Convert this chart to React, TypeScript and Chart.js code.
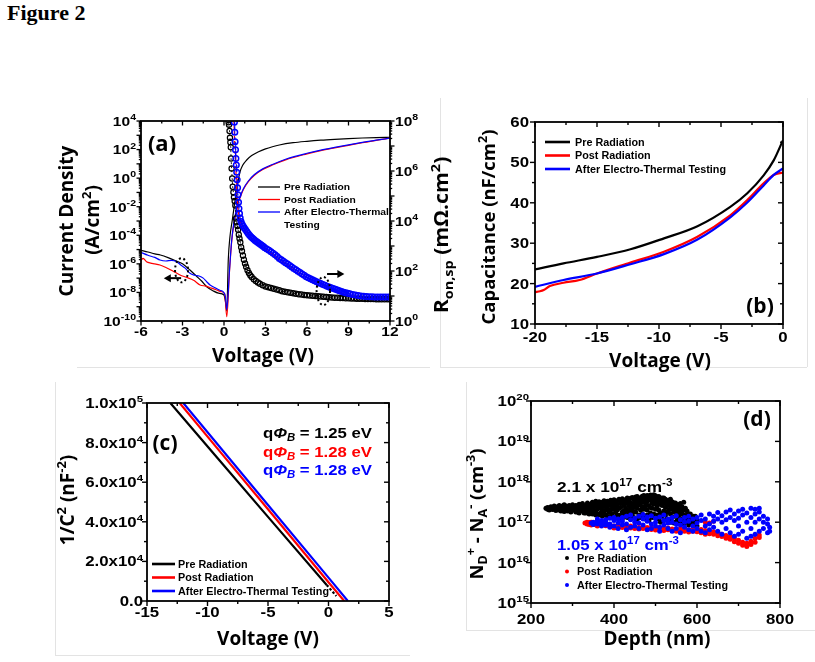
import { useEffect, useRef } from 'react';
import { Chart, registerables } from 'chart.js';

Chart.register(...registerables);

const W = 815;
const H = 662;
const SANS = '"Liberation Sans", Arial, sans-serif';
const HEAD = '"Open Sans", "Liberation Sans", sans-serif';
const BLACK = '#000000';
const RED = '#ff0000';
const BLUE = '#0000ff';

// ---------- (a) forward / reverse I-V and specific on-resistance ----------
// log10 of current density (A/cm^2) against bias (V)
const jPreLog: [number, number][] = [
  [-6, -5.05], [-5.5, -5.17], [-5, -5.3], [-4.6, -5.38], [-4, -5.58], [-3.5, -5.78], [-3, -6.0],
  [-2.46, -6.43], [-2, -6.85], [-1.6, -7.22], [-1.25, -7.6], [-0.8, -7.88], [-0.4, -8.05], [0, -8.18],
  [0.1, -8.6], [0.2, -9.3], [0.31, -5.7], [0.43, -4.1], [0.6, -2.93], [0.75, -1.9], [0.92, -0.83],
  [1.05, -0.05], [1.16, 0.45], [1.35, 0.9], [1.64, 1.27], [2, 1.58], [2.5, 1.85], [3, 2.05], [3.5, 2.2],
  [4, 2.32], [5, 2.48], [6, 2.58], [7, 2.66], [8, 2.72], [9, 2.77], [10, 2.81], [11, 2.84], [12, 2.86],
];
const jPostLog: [number, number][] = [
  [-6, -5.75], [-5.85, -5.62], [-5.6, -5.85], [-5.3, -5.95], [-5, -6.0], [-4.63, -6.08], [-4.2, -6.25],
  [-3.7, -6.5], [-3.18, -6.78], [-2.7, -6.95], [-2.2, -7.15], [-1.73, -7.48], [-1.3, -7.56], [-0.9, -7.7],
  [-0.53, -7.83], [-0.2, -7.95], [0.05, -8.1], [0.2, -9.7], [0.4, -6.5], [0.55, -4.5], [0.7, -3.3],
  [0.85, -2.5], [1.0, -1.8], [1.16, -1.38], [1.4, -0.8], [1.76, -0.25], [2.2, 0.2], [2.8, 0.6], [3.5, 0.92],
  [4.5, 1.3], [6, 1.7], [7, 1.93], [8, 2.12], [9, 2.3], [10, 2.48], [11, 2.65], [12, 2.8],
];
const jAfterLog: [number, number][] = [
  [-6, -5.2], [-5.5, -5.4], [-5, -5.55], [-4.63, -5.73], [-4.2, -5.8], [-3.8, -5.75], [-3.42, -5.85],
  [-3.1, -6.1], [-2.8, -6.3], [-2.46, -6.66], [-2.1, -6.8], [-1.8, -6.85], [-1.5, -7.0], [-1.25, -7.25],
  [-1.01, -7.48], [-0.6, -7.7], [-0.3, -7.85], [-0.07, -7.95], [0.1, -8.3], [0.2, -9.2], [0.4, -6.4],
  [0.55, -4.4], [0.7, -3.2], [0.85, -2.4], [1.0, -1.72], [1.16, -1.3], [1.4, -0.74], [1.76, -0.2],
  [2.2, 0.25], [2.8, 0.65], [3.5, 0.96], [4.5, 1.34], [6, 1.74], [7, 1.96], [8, 2.15], [9, 2.33],
  [10, 2.5], [11, 2.66], [12, 2.8],
];
// log10 of R_on,sp (mOhm.cm^2) against bias (V)
const ronPreLog: [number, number][] = [
  [0.33, 7.95], [0.36, 7.85], [0.4, 7.6], [0.43, 7.33], [0.46, 7.15], [0.49, 6.95], [0.51, 6.5],
  [0.55, 6.1], [0.59, 5.7], [0.63, 5.37], [0.68, 5.15], [0.72, 4.95], [0.77, 4.8], [0.82, 4.62],
  [0.87, 4.1], [0.92, 3.95], [0.97, 3.8], [1.02, 3.65], [1.07, 3.45], [1.12, 3.3], [1.18, 3.15],
  [1.24, 2.95], [1.3, 2.8], [1.37, 2.62], [1.44, 2.45], [1.52, 2.3], [1.6, 2.17], [1.7, 2.03],
  [1.8, 1.92], [1.9, 1.83], [2.0, 1.76], [2.15, 1.67], [2.3, 1.6], [2.45, 1.54], [2.6, 1.49],
  [2.8, 1.43], [3.0, 1.38], [3.2, 1.35], [3.4, 1.32], [3.6, 1.29], [3.8, 1.26], [4.0, 1.23],
  [4.2, 1.19], [4.4, 1.17], [4.6, 1.15], [4.8, 1.13], [5.0, 1.11], [5.2, 1.09], [5.4, 1.07],
  [5.6, 1.06], [5.8, 1.04], [6.0, 1.03], [6.2, 1.02], [6.4, 1.01], [6.6, 1.0], [6.8, 0.99],
  [7.0, 0.98], [7.2, 0.97], [7.4, 0.96], [7.6, 0.95], [7.8, 0.94], [8.0, 0.93], [8.2, 0.93],
  [8.4, 0.92], [8.6, 0.92], [8.8, 0.91], [9.0, 0.91], [9.2, 0.9], [9.4, 0.9], [9.6, 0.89],
  [9.8, 0.89], [10.0, 0.89], [10.2, 0.88], [10.4, 0.88], [10.6, 0.88], [10.8, 0.88], [11.0, 0.87],
  [11.2, 0.87], [11.4, 0.87], [11.6, 0.87], [11.8, 0.87], [12.0, 0.87],
];
const ronAfterLog: [number, number][] = [
  [0.75, 7.95], [0.78, 7.55], [0.8, 7.17], [0.83, 6.85], [0.86, 6.5], [0.89, 6.24], [0.92, 5.95],
  [0.95, 5.65], [0.98, 5.33], [1.01, 5.05], [1.05, 4.75], [1.08, 4.5], [1.12, 4.3], [1.17, 4.12],
  [1.23, 3.98], [1.3, 3.88], [1.38, 3.8], [1.46, 3.73], [1.55, 3.66], [1.65, 3.58], [1.75, 3.5],
  [1.85, 3.43], [1.95, 3.37], [2.05, 3.32], [2.15, 3.27], [2.25, 3.22], [2.35, 3.18], [2.45, 3.14],
  [2.55, 3.1], [2.65, 3.06], [2.75, 3.02], [2.85, 2.98], [2.95, 2.93], [3.1, 2.88], [3.25, 2.83],
  [3.4, 2.77], [3.55, 2.71], [3.7, 2.65], [3.85, 2.58], [4.0, 2.5], [4.15, 2.45], [4.3, 2.39],
  [4.45, 2.33], [4.6, 2.28], [4.75, 2.22], [4.9, 2.16], [5.05, 2.1], [5.2, 2.05], [5.35, 1.99],
  [5.5, 1.94], [5.65, 1.88], [5.8, 1.83], [5.95, 1.77], [6.1, 1.73], [6.25, 1.69], [6.4, 1.65],
  [6.55, 1.61], [6.7, 1.57], [6.85, 1.53], [7.0, 1.5], [7.15, 1.46], [7.3, 1.43], [7.45, 1.39],
  [7.6, 1.36], [7.75, 1.33], [7.9, 1.3], [8.05, 1.27], [8.2, 1.24], [8.35, 1.21], [8.5, 1.18],
  [8.65, 1.15], [8.8, 1.13], [8.95, 1.11], [9.1, 1.09], [9.3, 1.06], [9.5, 1.04], [9.7, 1.02],
  [9.9, 1.0], [10.1, 0.99], [10.3, 0.98], [10.5, 0.97], [10.7, 0.97], [10.9, 0.96], [11.1, 0.96],
  [11.3, 0.96], [11.5, 0.96], [11.7, 0.96], [11.9, 0.96],
];
const ronPostLog: [number, number][] = [
  [0.72, 8.0], [0.76, 7.3], [0.8, 6.8], [0.84, 6.3], [0.88, 5.8], [0.93, 5.2], [0.98, 4.7], [1.05, 4.3],
  [1.15, 4.0], [1.3, 3.8], [1.5, 3.62], [1.75, 3.45], [2.0, 3.3], [2.5, 3.08], [3.0, 2.86], [3.5, 2.68],
  [4.0, 2.47], [4.5, 2.28], [5.0, 2.1], [5.5, 1.92], [6.0, 1.74], [6.5, 1.6], [7.0, 1.47], [7.5, 1.34],
  [8.0, 1.22], [8.5, 1.12], [9.0, 1.03], [9.5, 0.96], [10.0, 0.91], [10.5, 0.88], [11.0, 0.86], [12.0, 0.86],
];
const aXTicks = [-6, -3, 0, 3, 6, 9, 12];
const aXMinor = [-4.5, -1.5, 1.5, 4.5, 7.5, 10.5];
const aLeftExps = [4, 2, 0, -2, -4, -6, -8, -10];
const aRightExps = [8, 6, 4, 2, 0];

// ---------- (b) capacitance (nF/cm^2) against bias (V) ----------
const cvPre: [number, number][] = [
  [-20, 23.5], [-17.7, 25.0], [-15, 26.6], [-12.3, 28.5], [-9.6, 31.2], [-6.9, 34.2], [-4.25, 39.0],
  [-2.9, 42.3], [-1.56, 46.8], [-0.75, 50.5], [0, 55.5],
];
const cvPost: [number, number][] = [
  [-20, 17.9], [-19.6, 18.1], [-19.3, 18.4], [-18.8, 19.4], [-17.7, 20.2], [-16.4, 20.9], [-15, 22.5],
  [-12.3, 25.2], [-9.6, 27.9], [-6.9, 31.6], [-4.25, 36.9], [-2.9, 40.6], [-1.56, 44.8], [-0.75, 46.9],
  [0, 47.5],
];
const cvAfter: [number, number][] = [
  [-20, 19.2], [-17.7, 20.9], [-15, 22.5], [-12.3, 24.8], [-9.6, 27.3], [-6.9, 30.9], [-4.25, 36.4],
  [-2.9, 40.0], [-1.56, 44.3], [-0.75, 46.9], [0, 48.5],
];
const bXTicks = [-20, -15, -10, -5, 0];
const bXMinor = [-17.5, -12.5, -7.5, -2.5];
const bYTicks = [10, 20, 30, 40, 50, 60];
const bYMinor = [15, 25, 35, 45, 55];

// ---------- (c) 1/C^2 (nF^-2) against bias (V) ----------
const invPre: [number, number][] = [[-13.07, 1.0e5], [-9, 7.1e4], [-5, 4.25e4], [-0.15, 8.1e3]];
const invPreExt: [number, number][] = [[-0.15, 8.1e3], [0.65, 2.5e3]];
const invPost: [number, number][] = [[-12.3, 1.0e5], [-9, 7.57e4], [-5, 4.63e4], [0, 9.5e3], [1.3, 0]];
const invAfter: [number, number][] = [[-12.0, 1.0e5], [-9, 7.79e4], [-5, 4.85e4], [0, 1.18e4], [1.6, 0]];
const cXTicks = [-15, -10, -5, 0, 5];
const cXMinor = [-12.5, -7.5, -2.5, 2.5];
const cYTicks = [0, 2e4, 4e4, 6e4, 8e4, 1e5];
const cYMant = ['0.0', '2.0x10', '4.0x10', '6.0x10', '8.0x10', '1.0x10'];
const cYExp = ['', '4', '4', '4', '4', '5'];
const cYMinor = [1e4, 3e4, 5e4, 7e4, 9e4];
const barrierEv = ['1.25', '1.28', '1.28'];

// ---------- (d) net doping (x 10^17 cm^-3) against depth (nm) ----------
// each row: depth, then the samples taken at that depth
const dopPre: number[][] = [
  [236, 2.2], [240, 2.1, 2.3], [244, 2.25, 2.0], [248, 2.15, 2.4], [252, 2.3, 2.05], [256, 2.1, 2.5],
  [260, 2.2, 1.95], [264, 2.4, 2.1], [268, 2.0, 2.6], [272, 2.3, 1.9], [276, 2.5, 2.1],
  [280, 2.1, 2.7, 1.85], [284, 2.2, 2.5], [288, 1.9, 2.4], [292, 2.3, 2.0, 2.6], [296, 2.1, 1.8],
  [300, 2.4, 2.0, 2.7], [304, 2.0, 2.3], [308, 2.6, 1.8, 2.2], [312, 1.8, 2.5], [316, 2.2, 2.8, 1.7],
  [320, 2.7, 2.0], [324, 1.9, 2.4, 2.9], [328, 2.3, 1.7], [332, 1.7, 2.6, 2.1], [336, 2.5, 1.9, 3.0],
  [340, 2.0, 2.7, 1.6], [344, 2.8, 2.2, 1.8], [348, 1.6, 2.4, 3.1], [352, 2.4, 1.9, 2.9],
  [356, 1.8, 2.6, 3.3, 1.5], [360, 2.9, 2.1, 1.6], [364, 1.5, 2.5, 3.2], [368, 2.2, 1.7, 2.8],
  [372, 3.1, 2.0, 1.4, 2.5], [376, 1.7, 2.7, 3.4], [380, 2.5, 1.5, 3.0, 2.0], [384, 1.4, 2.2, 3.3],
  [388, 3.2, 1.8, 2.6], [392, 2.0, 2.9, 1.4, 3.5], [396, 1.6, 2.4, 3.1], [400, 2.8, 1.3, 2.1, 3.6],
  [404, 1.3, 2.5, 3.0, 1.8], [408, 3.4, 2.0, 1.5, 2.7], [412, 2.2, 3.7, 1.3], [416, 1.5, 2.9, 2.3, 3.3],
  [420, 3.0, 1.8, 3.8, 1.2], [424, 1.9, 2.6, 3.4, 1.4], [428, 3.6, 2.2, 1.6, 2.9], [432, 1.3, 3.0, 2.0, 4.0],
  [436, 2.6, 1.5, 3.5, 1.9], [440, 3.9, 2.3, 1.2, 3.0], [444, 1.6, 2.8, 4.1, 2.0], [448, 2.3, 3.6, 1.3, 2.9],
  [452, 4.2, 1.8, 2.6, 3.4], [456, 1.2, 3.1, 2.2, 4.3], [460, 3.3, 1.5, 2.7, 4.0], [464, 2.0, 3.8, 1.3, 2.9],
  [468, 4.4, 2.4, 1.6, 3.5], [472, 1.4, 3.2, 4.6, 2.1], [476, 2.9, 1.2, 3.9, 2.5], [480, 4.6, 2.0, 3.3, 1.5],
  [484, 1.1, 3.6, 2.6, 4.4], [488, 3.5, 1.7, 4.7, 2.3], [492, 2.2, 4.1, 1.3, 3.0], [496, 4.8, 2.8, 1.6, 3.7],
  [500, 1.3, 3.4, 4.5, 2.1], [504, 3.1, 1.5, 4.2, 2.5], [508, 4.3, 2.0, 3.5, 1.2], [512, 1.0, 2.8, 3.9, 1.7],
  [516, 2.6, 4.0, 1.4, 3.2], [520, 4.0, 1.9, 2.9, 1.1], [524, 1.5, 3.3, 2.3, 3.7], [528, 3.3, 1.2, 2.6, 1.8],
  [532, 1.1, 2.9, 3.5, 2.0], [536, 3.7, 1.6, 2.4, 1.0], [540, 2.1, 3.2, 1.3, 2.8], [544, 0.95, 2.5, 1.8, 3.0],
  [548, 3.0, 1.4, 2.2, 1.0], [552, 1.6, 2.7, 1.1, 2.0], [556, 2.7, 1.3, 1.9, 2.4], [560, 1.0, 2.2, 1.6, 2.9],
  [564, 2.4, 1.2, 1.8], [568, 3.1, 1.5, 0.9, 2.0], [572, 1.3, 2.2, 1.0], [576, 1.9, 1.1, 1.5],
  [580, 0.85, 1.6, 1.2], [584, 1.6, 1.0, 1.3], [588, 1.2, 0.9], [592, 1.0, 1.4, 0.8], [596, 1.4, 0.9],
  [600, 0.8, 1.1],
];
const dopPost: number[][] = [
  [330, 0.95], [335, 0.9, 1.0], [340, 0.88, 0.98], [345, 1.0, 0.85], [350, 0.92], [355, 0.86, 0.97],
  [360, 0.9, 0.8], [370, 0.85, 0.95], [380, 0.82, 0.9], [390, 0.78, 0.88], [400, 0.8, 0.72],
  [410, 0.76, 0.86], [420, 0.74, 0.82], [430, 0.78, 0.7], [440, 0.72, 0.8], [450, 0.7, 0.77],
  [460, 0.74, 0.68], [470, 0.7, 0.78], [480, 0.68, 0.74], [490, 0.72, 0.66], [500, 0.7, 0.64],
  [510, 0.66, 0.73], [520, 0.7, 0.62], [530, 0.65, 0.72], [540, 0.62, 0.68], [550, 0.66, 0.6],
  [560, 0.63, 0.7], [570, 0.6, 0.66], [580, 0.64, 0.57], [590, 0.6, 0.68], [600, 0.58, 0.62],
  [610, 0.55, 0.66], [620, 0.62, 0.5, 1.0], [630, 0.52, 0.6, 0.95], [640, 0.5, 0.58, 1.05],
  [650, 0.46, 0.55], [660, 0.44, 0.5], [670, 0.4, 0.47], [680, 0.38, 0.44], [690, 0.33, 0.4],
  [700, 0.3, 0.36], [710, 0.27, 0.32], [720, 0.25, 0.3], [730, 0.28, 0.34], [740, 0.32, 0.4],
  [750, 0.42, 0.48],
];
const dopAfter: number[][] = [
  [345, 0.95], [350, 1.0, 0.88], [360, 1.05, 0.9, 1.2], [370, 0.95, 1.1, 0.8], [380, 1.15, 0.85, 1.0],
  [390, 0.9, 1.25, 0.75], [400, 1.1, 0.8, 1.3], [410, 0.95, 1.2, 0.7], [420, 1.3, 0.85, 1.05],
  [430, 0.9, 1.4, 0.65], [440, 1.15, 0.75, 1.5], [450, 0.8, 1.25, 1.0], [460, 1.4, 0.7, 0.95],
  [470, 0.85, 1.2, 1.55], [480, 1.05, 0.65, 1.35], [490, 0.9, 1.45, 0.7], [500, 1.25, 0.8, 1.0],
  [510, 0.75, 1.35, 0.6], [520, 1.1, 0.85, 1.5], [530, 0.7, 1.2, 0.95], [540, 1.3, 0.6, 1.0],
  [550, 0.9, 1.45, 0.7], [560, 1.15, 0.55, 0.85], [570, 0.75, 1.3, 1.0], [580, 1.05, 0.65, 1.4],
  [590, 0.8, 1.2, 0.6], [600, 1.3, 0.7, 0.95], [610, 0.6, 1.1, 1.5], [620, 1.2, 0.8, 0.55],
  [630, 0.9, 1.6, 0.65], [640, 1.4, 0.75, 1.05], [650, 0.6, 1.2, 1.75], [660, 1.0, 0.5, 1.45],
  [670, 1.8, 0.7, 1.15], [680, 0.55, 1.3, 2.0], [690, 1.1, 0.45, 1.6], [700, 1.9, 0.8, 1.25, 0.5],
  [710, 0.6, 1.5, 2.1], [720, 1.0, 0.4, 1.7], [730, 2.2, 0.7, 1.3, 0.45], [740, 0.5, 1.6, 1.0, 2.1],
  [750, 1.8, 0.6, 1.2, 2.2], [760, 0.7, 1.4, 1.0], [770, 0.55, 0.9, 1.2], [775, 0.6, 0.75],
];
const dXTicks = [200, 400, 600, 800];
const dXMinor = [300, 500, 700];
const dYExps = [15, 16, 17, 18, 19, 20];

const seriesNames = ['Pre Radiation', 'Post Radiation', 'After Electro-Thermal Testing'];
const seriesColors = [BLACK, RED, BLUE];

// ---------- text helpers ----------
type Run = { t: string; s: number; f?: string; it?: boolean; dy?: number };
const txt = (t: string, s: number, f = SANS): Run => ({ t, s, f });
const sup = (t: string, s: number, f = SANS): Run => ({ t, s: s * 0.68, f, dy: -s * 0.42 });
const sub = (t: string, s: number, f = SANS, it = false): Run => ({ t, s: s * 0.68, f, dy: s * 0.25, it });
const fontOf = (r: Run) => `${r.it ? 'italic ' : ''}bold ${r.s}px ${r.f ?? SANS}`;

interface TextOpts { align?: 'left' | 'center' | 'right'; sx?: number; rot?: number; color?: string }

// draws a run of mixed-size text; y is the middle of the capitals of the first run
function drawRuns(ctx: CanvasRenderingContext2D, runs: Run[], x: number, y: number, o: TextOpts = {}) {
  ctx.save();
  ctx.translate(x, y);
  if (o.rot) ctx.rotate(o.rot);
  ctx.scale(o.sx ?? 1, 1);
  ctx.fillStyle = o.color ?? BLACK;
  ctx.textAlign = 'left';
  ctx.textBaseline = 'alphabetic';
  const widths = runs.map((r) => {
    ctx.font = fontOf(r);
    return ctx.measureText(r.t).width;
  });
  const total = widths.reduce((a, b) => a + b, 0);
  let cx = o.align === 'right' ? -total : o.align === 'center' ? -total / 2 : 0;
  const base = runs[0].s * 0.36;
  runs.forEach((r, i) => {
    ctx.font = fontOf(r);
    ctx.fillText(r.t, cx, base + (r.dy ?? 0));
    cx += widths[i];
  });
  ctx.restore();
}

// ---------- axis helpers ----------
function seg(ctx: CanvasRenderingContext2D, x1: number, y1: number, x2: number, y2: number) {
  ctx.beginPath();
  ctx.moveTo(x1, y1);
  ctx.lineTo(x2, y2);
  ctx.stroke();
}
const decades = (lo: number, hi: number) => {
  const out: number[] = [];
  for (let e = lo; e <= hi; e++) out.push(10 ** e);
  return out;
};
const logMinors = (lo: number, hi: number) => {
  const out: number[] = [];
  for (let e = lo; e < hi; e++) for (let m = 2; m <= 9; m++) out.push(m * 10 ** e);
  return out;
};
function ticksX(ctx: CanvasRenderingContext2D, chart: any, vals: number[], len: number) {
  const s = chart.scales.x;
  const ca = chart.chartArea;
  vals.forEach((v) => {
    const p = s.getPixelForValue(v);
    seg(ctx, p, ca.bottom, p, ca.bottom + len);
    seg(ctx, p, ca.top, p, ca.top + len);
  });
}
function ticksY(ctx: CanvasRenderingContext2D, chart: any, id: string, vals: number[], len: number, side: 'left' | 'right' | 'both', rightOut = false) {
  const s = chart.scales[id];
  const ca = chart.chartArea;
  vals.forEach((v) => {
    const p = s.getPixelForValue(v);
    if (side !== 'right') seg(ctx, ca.left, p, ca.left - len, p);
    if (side !== 'left') seg(ctx, ca.right, p, rightOut ? ca.right + len : ca.right - len, p);
  });
}
function drawFrame(ctx: CanvasRenderingContext2D, ca: any) {
  ctx.save();
  ctx.strokeStyle = BLACK;
  ctx.lineWidth = 1.8;
  ctx.strokeRect(ca.left, ca.top, ca.right - ca.left, ca.bottom - ca.top);
  ctx.restore();
}
function arrow(ctx: CanvasRenderingContext2D, x1: number, y1: number, x2: number, y2: number) {
  const a = Math.atan2(y2 - y1, x2 - x1);
  ctx.lineWidth = 2;
  seg(ctx, x1, y1, x2 - 4 * Math.cos(a), y2 - 4 * Math.sin(a));
  ctx.beginPath();
  ctx.moveTo(x2, y2);
  ctx.lineTo(x2 - 7 * Math.cos(a) + 4 * Math.sin(a), y2 - 7 * Math.sin(a) - 4 * Math.cos(a));
  ctx.lineTo(x2 - 7 * Math.cos(a) - 4 * Math.sin(a), y2 - 7 * Math.sin(a) + 4 * Math.cos(a));
  ctx.closePath();
  ctx.fill();
}
function legendLines(ctx: CanvasRenderingContext2D, x1: number, x2: number, ys: number[], lw: number) {
  ys.forEach((y, i) => {
    ctx.strokeStyle = seriesColors[i];
    ctx.lineWidth = lw;
    seg(ctx, x1, y, x2, y);
  });
  ctx.strokeStyle = BLACK;
}

const ROT = -Math.PI / 2;

function baseOptions(L: number, T: number, R: number, B: number) {
  return {
    responsive: false,
    animation: false,
    events: [],
    layout: { padding: { left: L, top: T, right: W - R, bottom: H - B } },
    plugins: { legend: { display: false }, tooltip: { enabled: false } },
  };
}
const logPts = (arr: [number, number][]) => arr.map(([x, e]) => ({ x, y: 10 ** e }));
const pts = (arr: [number, number][]) => arr.map(([x, y]) => ({ x, y }));
const rowPts = (rows: number[][]) => rows.flatMap(([d, ...vals]) => vals.map((v) => ({ x: d, y: v * 1e17 })));

// ---------- panel (a) ----------
function makeA(canvas: HTMLCanvasElement) {
  const decor = {
    id: 'decorA',
    afterDraw(chart: any) {
      const ctx: CanvasRenderingContext2D = chart.ctx;
      const ca = chart.chartArea;
      const sx = chart.scales.x;
      const sy = chart.scales.y;
      const sr = chart.scales.y1;
      ctx.save();
      // faint panel borders around the figure parts
      ctx.strokeStyle = '#e3e3e3';
      ctx.lineWidth = 1;
      seg(ctx, 77, 367.5, 430, 367.5);
      seg(ctx, 440.5, 98, 440.5, 367);
      seg(ctx, 440, 367.5, 807, 367.5);
      seg(ctx, 807.5, 98, 807.5, 367);
      seg(ctx, 55.5, 382, 55.5, 655);
      seg(ctx, 55, 655.5, 410, 655.5);
      seg(ctx, 466.5, 382, 466.5, 630);
      seg(ctx, 466, 630.5, 815, 630.5);

      ctx.strokeStyle = BLACK;
      ctx.fillStyle = BLACK;
      ctx.lineWidth = 1.3;
      ticksX(ctx, chart, aXTicks, 4.5);
      ticksX(ctx, chart, aXMinor, 2.5);
      ticksY(ctx, chart, 'y', decades(-10, 4), 4.5, 'left');
      ticksY(ctx, chart, 'y', logMinors(-10, 4), 2.2, 'left');
      ticksY(ctx, chart, 'y1', decades(0, 8), 4.5, 'right', true);
      ticksY(ctx, chart, 'y1', logMinors(0, 8), 2.2, 'right', true);
      drawFrame(ctx, ca);

      const tf = 13.5;
      aXTicks.forEach((v) => drawRuns(ctx, [txt(String(v), tf)], sx.getPixelForValue(v), ca.bottom + 10, { align: 'center', sx: 1.15 }));
      aLeftExps.forEach((e) => drawRuns(ctx, [txt('10', tf), sup(String(e), tf)], ca.left - 5, sy.getPixelForValue(10 ** e), { align: 'right', sx: 1.15 }));
      aRightExps.forEach((e) => drawRuns(ctx, [txt('10', tf), sup(String(e), tf)], ca.right + 5, sr.getPixelForValue(10 ** e), { align: 'left', sx: 1.15 }));

      drawRuns(ctx, [txt('Voltage (V)', 19, HEAD)], 263, 355, { align: 'center' });
      drawRuns(ctx, [txt('Current Density', 19, HEAD)], 66, 221, { align: 'center', rot: ROT });
      drawRuns(ctx, [txt('(A/cm', 19, HEAD), sup('2', 19, HEAD), txt(')', 19, HEAD)], 92, 220, { align: 'center', rot: ROT });
      drawRuns(
        ctx,
        [txt('R', 19, HEAD), sub('on,sp', 19, HEAD), txt(' (m\u03a9.cm', 19, HEAD), sup('2', 19, HEAD), txt(')', 19, HEAD)],
        441, 235, { align: 'center', rot: ROT, sx: 1.12 },
      );
      drawRuns(ctx, [txt('(a)', 22, HEAD)], 162, 143, { align: 'center' });

      // legend
      legendLines(ctx, 258, 280, [187, 199.5, 212], 1.3);
      const lf = 9.5;
      drawRuns(ctx, [txt('Pre Radiation', lf)], 284, 187, { sx: 1.08 });
      drawRuns(ctx, [txt('Post Radiation', lf)], 284, 199.5, { sx: 1.08 });
      drawRuns(ctx, [txt('After Electro-Thermal', lf)], 284, 212, { sx: 1.08 });
      drawRuns(ctx, [txt('Testing', lf)], 284, 224.5, { sx: 1.08 });

      // dotted rings with arrows pointing to the axis each family belongs to
      ctx.strokeStyle = BLACK;
      ctx.lineWidth = 2;
      ctx.setLineDash([2, 2.6]);
      ctx.beginPath();
      ctx.ellipse(sx.getPixelForValue(-3.07), sy.getPixelForValue(10 ** -6.45), 6.5, 12, 0, 0, Math.PI * 2);
      ctx.stroke();
      ctx.beginPath();
      ctx.ellipse(sx.getPixelForValue(7.18), sr.getPixelForValue(10 ** 1.2), 6.7, 14, 0, 0, Math.PI * 2);
      ctx.stroke();
      ctx.setLineDash([]);
      const yl = sy.getPixelForValue(10 ** -7.0);
      arrow(ctx, sx.getPixelForValue(-3.1), yl, sx.getPixelForValue(-4.35), yl);
      const yr = sr.getPixelForValue(10 ** 1.88);
      arrow(ctx, sx.getPixelForValue(7.45), yr, sx.getPixelForValue(8.7), yr);
      ctx.restore();
    },
  };
  const line = (data: any[], color: string, yAxisID: string) => ({
    data, yAxisID, borderColor: color, borderWidth: 1.2, pointRadius: 0, cubicInterpolationMode: 'monotone', fill: false,
  });
  return new Chart(canvas, {
    type: 'line',
    data: {
      datasets: [
        {
          data: logPts(ronAfterLog), yAxisID: 'y1', borderColor: BLUE, borderWidth: 1, borderDash: [],
          segment: { borderDash: (c: any) => (c.p1.parsed.x <= 1.15 ? [3, 2] : undefined) },
          pointRadius: 2.8, pointBorderWidth: 1.5, pointBorderColor: BLUE, pointBackgroundColor: 'rgba(255,255,255,0)', fill: false,
        },
        {
          ...line(logPts(ronPostLog), RED, 'y1'), borderDash: [], cubicInterpolationMode: 'default',
          segment: { borderDash: (c: any) => (c.p1.parsed.x <= 1.0 ? [3, 2] : undefined) },
        },
        {
          data: logPts(ronPreLog), yAxisID: 'y1', borderColor: BLACK, borderWidth: 0.9, borderDash: [2, 2],
          pointRadius: 2.6, pointBorderWidth: 1.2, pointBorderColor: BLACK, pointBackgroundColor: 'rgba(255,255,255,0)', fill: false,
        },
        line(logPts(jAfterLog), BLUE, 'y'),
        line(logPts(jPostLog), RED, 'y'),
        line(logPts(jPreLog), BLACK, 'y'),
      ],
    },
    options: {
      ...baseOptions(141, 121, 390, 321),
      scales: {
        x: { type: 'linear', min: -6, max: 12, display: false },
        y: { type: 'logarithmic', min: 1e-10, max: 1e4, display: false },
        y1: { type: 'logarithmic', position: 'right', min: 1, max: 1e8, display: false },
      },
    } as any,
    plugins: [decor],
  } as any);
}

// ---------- panel (b) ----------
function makeB(canvas: HTMLCanvasElement) {
  const decor = {
    id: 'decorB',
    afterDraw(chart: any) {
      const ctx: CanvasRenderingContext2D = chart.ctx;
      const ca = chart.chartArea;
      const sx = chart.scales.x;
      const sy = chart.scales.y;
      ctx.save();
      ctx.strokeStyle = BLACK;
      ctx.lineWidth = 1.4;
      ticksX(ctx, chart, bXTicks, 5);
      ticksX(ctx, chart, bXMinor, 3);
      ticksY(ctx, chart, 'y', bYTicks, 5, 'both');
      ticksY(ctx, chart, 'y', bYMinor, 3, 'both');
      drawFrame(ctx, ca);
      bXTicks.forEach((v) => drawRuns(ctx, [txt(String(v), 14)], sx.getPixelForValue(v), ca.bottom + 13, { align: 'center', sx: 1.2 }));
      bYTicks.forEach((v) => drawRuns(ctx, [txt(String(v), 14)], ca.left - 6, sy.getPixelForValue(v), { align: 'right', sx: 1.2 }));
      drawRuns(ctx, [txt('Voltage (V)', 19, HEAD)], 660, 360, { align: 'center' });
      drawRuns(ctx, [txt('Capacitance (nF/cm', 18.5, HEAD), sup('2', 18.5, HEAD), txt(')', 18.5, HEAD)], 488, 227, { align: 'center', rot: ROT });
      drawRuns(ctx, [txt('(b)', 21, HEAD)], 760, 305, { align: 'center' });
      legendLines(ctx, 545, 570, [142, 155.5, 169], 2.6);
      seriesNames.forEach((n, i) => drawRuns(ctx, [txt(n, 10)], 575, [142, 155.5, 169][i], { sx: 1.08 }));
      ctx.restore();
    },
  };
  const line = (data: any[], color: string) => ({
    data, borderColor: color, borderWidth: 2.2, pointRadius: 0, cubicInterpolationMode: 'monotone', fill: false,
  });
  return new Chart(canvas, {
    type: 'line',
    data: { datasets: [line(pts(cvAfter), BLUE), line(pts(cvPost), RED), line(pts(cvPre), BLACK)] },
    options: {
      ...baseOptions(535, 122, 783, 324),
      scales: {
        x: { type: 'linear', min: -20, max: 0, display: false },
        y: { type: 'linear', min: 10, max: 60, display: false },
      },
    } as any,
    plugins: [decor],
  } as any);
}

// ---------- panel (c) ----------
function makeC(canvas: HTMLCanvasElement) {
  const decor = {
    id: 'decorC',
    afterDraw(chart: any) {
      const ctx: CanvasRenderingContext2D = chart.ctx;
      const ca = chart.chartArea;
      const sx = chart.scales.x;
      const sy = chart.scales.y;
      ctx.save();
      ctx.strokeStyle = BLACK;
      ctx.lineWidth = 1.4;
      ticksX(ctx, chart, cXTicks, 5);
      ticksX(ctx, chart, cXMinor, 3);
      ticksY(ctx, chart, 'y', cYTicks, 5, 'both');
      ticksY(ctx, chart, 'y', cYMinor, 3, 'both');
      drawFrame(ctx, ca);
      cXTicks.forEach((v) => drawRuns(ctx, [txt(String(v), 14)], sx.getPixelForValue(v), ca.bottom + 11, { align: 'center', sx: 1.2 }));
      cYTicks.forEach((v, i) => {
        const runs = cYExp[i] ? [txt(cYMant[i], 14), sup(cYExp[i], 14)] : [txt(cYMant[i], 14)];
        drawRuns(ctx, runs, ca.left - 4, sy.getPixelForValue(v), { align: 'right', sx: 1.2 });
      });
      drawRuns(ctx, [txt('Voltage (V)', 19, HEAD)], 268, 638, { align: 'center' });
      drawRuns(
        ctx,
        [txt('1/C', 19, HEAD), sup('2', 19, HEAD), txt(' (nF', 19, HEAD), sup('-2', 19, HEAD), txt(')', 19, HEAD)],
        67, 500, { align: 'center', rot: ROT },
      );
      drawRuns(ctx, [txt('(c)', 21, HEAD)], 165, 442, { align: 'center' });
      barrierEv.forEach((ev, i) => {
        drawRuns(
          ctx,
          [txt('q', 15.5), { t: '\u03a6', s: 15.5, it: true }, sub('B', 15.5, SANS, true), txt(` = ${ev} eV`, 15.5)],
          263, [432, 451, 469][i], { sx: 1.08, color: seriesColors[i] },
        );
      });
      legendLines(ctx, 152, 175, [564, 577.5, 591], 2.6);
      seriesNames.forEach((n, i) => drawRuns(ctx, [txt(n, 10)], 178, [564, 577.5, 591][i], { sx: 1.08 }));
      ctx.restore();
    },
  };
  const line = (data: any[], color: string, dash: number[] = []) => ({
    data, borderColor: color, borderWidth: 2.2, borderDash: dash, pointRadius: 0, fill: false,
  });
  return new Chart(canvas, {
    type: 'line',
    data: {
      datasets: [
        line(pts(invPost), RED),
        line(pts(invAfter), BLUE),
        line(pts(invPreExt), BLACK, [2.5, 2]),
        line(pts(invPre), BLACK),
      ],
    },
    options: {
      ...baseOptions(147, 403, 389, 601),
      scales: {
        x: { type: 'linear', min: -15, max: 5, display: false },
        y: { type: 'linear', min: 0, max: 1e5, display: false },
      },
    } as any,
    plugins: [decor],
  } as any);
}

// ---------- panel (d) ----------
function makeD(canvas: HTMLCanvasElement) {
  const decor = {
    id: 'decorD',
    afterDraw(chart: any) {
      const ctx: CanvasRenderingContext2D = chart.ctx;
      const ca = chart.chartArea;
      const sx = chart.scales.x;
      const sy = chart.scales.y;
      ctx.save();
      ctx.strokeStyle = BLACK;
      ctx.lineWidth = 1.4;
      ticksX(ctx, chart, dXTicks, 5);
      ticksX(ctx, chart, dXMinor, 3);
      ticksY(ctx, chart, 'y', decades(15, 20), 5, 'both');
      drawFrame(ctx, ca);
      dXTicks.forEach((v) => drawRuns(ctx, [txt(String(v), 14)], sx.getPixelForValue(v), ca.bottom + 16, { align: 'center', sx: 1.2 }));
      dYExps.forEach((e) => drawRuns(ctx, [txt('10', 14), sup(String(e), 14)], ca.left - 2, sy.getPixelForValue(10 ** e), { align: 'right', sx: 1.2 }));
      drawRuns(ctx, [txt('Depth (nm)', 19, HEAD)], 657, 638, { align: 'center' });
      drawRuns(
        ctx,
        [
          txt('N', 18.5, HEAD), sub('D', 18.5, HEAD), sup('+', 18.5, HEAD), txt(' - N', 18.5, HEAD), sub('A', 18.5, HEAD),
          sup('-', 18.5, HEAD), txt(' (cm', 18.5, HEAD), sup('-3', 18.5, HEAD), txt(')', 18.5, HEAD),
        ],
        476, 514, { align: 'center', rot: ROT },
      );
      drawRuns(ctx, [txt('(d)', 21, HEAD)], 757, 418, { align: 'center' });
      drawRuns(ctx, [txt('2.1 x 10', 15), sup('17', 15), txt(' cm', 15), sup('-3', 15)], 557, 487, { sx: 1.15 });
      drawRuns(ctx, [txt('1.05 x 10', 15), sup('17', 15), txt(' cm', 15), sup('-3', 15)], 557, 545, { sx: 1.12, color: BLUE });
      [558, 571.5, 585].forEach((y, i) => {
        ctx.fillStyle = seriesColors[i];
        ctx.beginPath();
        ctx.arc(567, y, 2, 0, Math.PI * 2);
        ctx.fill();
        drawRuns(ctx, [txt(seriesNames[i], 10)], 577, y, { sx: 1.08 });
      });
      ctx.restore();
    },
  };
  const dots = (data: any[], color: string, r: number) => ({
    data, backgroundColor: color, borderColor: color, borderWidth: 0, pointRadius: r, pointStyle: 'circle',
  });
  return new Chart(canvas, {
    type: 'scatter',
    data: { datasets: [dots(rowPts(dopAfter), BLUE, 2.5), dots(rowPts(dopPost), RED, 2.5), dots(rowPts(dopPre), BLACK, 2.5)] },
    options: {
      ...baseOptions(531, 401, 780, 603),
      scales: {
        x: { type: 'linear', min: 200, max: 800, display: false },
        y: { type: 'logarithmic', min: 1e15, max: 1e20, display: false },
      },
    } as any,
    plugins: [decor],
  } as any);
}

export default function App() {
  const ra = useRef<HTMLCanvasElement>(null);
  const rb = useRef<HTMLCanvasElement>(null);
  const rc = useRef<HTMLCanvasElement>(null);
  const rd = useRef<HTMLCanvasElement>(null);

  useEffect(() => {
    const charts = [makeA(ra.current!), makeB(rb.current!), makeC(rc.current!), makeD(rd.current!)];
    return () => charts.forEach((c) => c.destroy());
  }, []);

  const cs: any = { position: 'absolute', left: 0, top: 0 };
  return (
    <div style={{ position: 'fixed', left: 0, top: 0, width: W, height: H, background: '#ffffff', overflow: 'hidden' }}>
      <div style={{ position: 'absolute', left: 7, top: 1, font: 'bold 22px "Liberation Serif", "Times New Roman", serif', lineHeight: '24px' }}>
        Figure 2
      </div>
      <canvas ref={ra} width={W} height={H} style={cs} />
      <canvas ref={rb} width={W} height={H} style={cs} />
      <canvas ref={rc} width={W} height={H} style={cs} />
      <canvas ref={rd} width={W} height={H} style={cs} />
    </div>
  );
}
